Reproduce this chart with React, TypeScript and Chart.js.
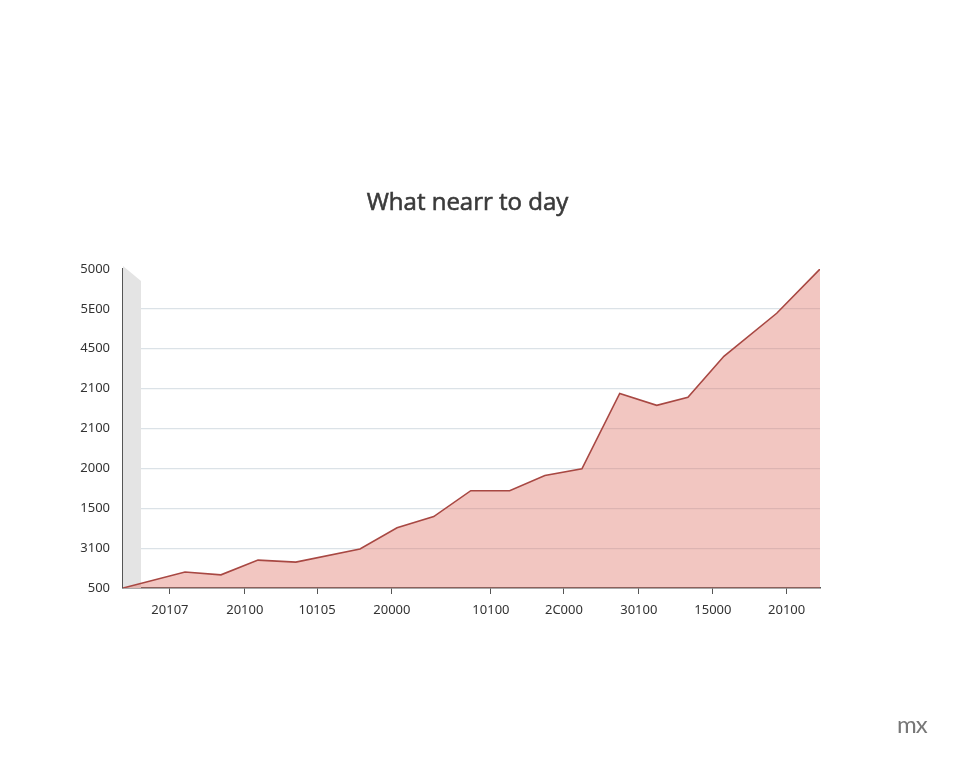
import React, { useEffect, useRef } from "react";
import { Chart, registerables } from "chart.js";

Chart.register(...registerables);

const chartTitle = "What nearr to day";
const watermark = "mx";

// x positions (in step units along the axis) and values (in grid-row units)
const pointX = [0, 1.69, 2.67, 3.68, 4.71, 6.46, 7.47, 8.47, 9.48, 10.54, 11.5, 12.51, 13.54, 14.55, 15.4, 16.38, 17.82, 19];
const seriesValues = [0, 0.4, 0.33, 0.7, 0.65, 0.98, 1.51, 1.79, 2.44, 2.44, 2.82, 2.99, 4.88, 4.58, 4.78, 5.81, 6.89, 8.0];

const xTickPositions = [1.28, 3.32, 5.29, 7.33, 10.03, 12.02, 14.06, 16.08, 18.09];
const xTickLabels = ["20107", "20100", "10105", "20000", "10100", "2C000", "30100", "15000", "20100"];

const yTickLabels = ["500", "3100", "1500", "2000", "2100", "2100", "4500", "5E00", "5000"];

export default function App() {
  const ref = useRef<HTMLCanvasElement | null>(null);

  useEffect(() => {
    const canvas = ref.current;
    if (!canvas) return;

    const sideWall = {
      id: "sideWall",
      beforeDatasetsDraw(chart: any) {
        const { ctx, chartArea } = chart;
        const { left, top, bottom } = chartArea;
        ctx.save();
        ctx.fillStyle = "#e4e4e4";
        ctx.beginPath();
        ctx.moveTo(left, top - 3);
        ctx.lineTo(left + 18, top + 12);
        ctx.lineTo(left + 18, bottom);
        ctx.lineTo(left, bottom);
        ctx.closePath();
        ctx.fill();
        ctx.restore();
      },
    };

    const titlePlugin = {
      id: "customTitle",
      afterDraw(chart: any) {
        const { ctx, chartArea } = chart;
        ctx.save();
        ctx.fillStyle = "#3a3a3a";
        ctx.strokeStyle = "#3a3a3a";
        ctx.lineWidth = 0.6;
        ctx.font = "400 24px 'Open Sans', 'Noto Sans', sans-serif";
        ctx.textAlign = "center";
        ctx.textBaseline = "middle";
        const x = (chartArea.left + chartArea.right) / 2 - 4;
        const y = chartArea.top - 66;
        ctx.fillText(chartTitle, x, y);
        ctx.strokeText(chartTitle, x, y);
        ctx.restore();
      },
    };

    const chart = new Chart(canvas, {
      type: "line",
      data: {
        datasets: [
          {
            data: pointX.map((x, i) => ({ x, y: seriesValues[i] })),
            borderColor: "#a84843",
            borderWidth: 1.6,
            backgroundColor: "rgba(222,112,100,0.4)",
            fill: "origin",
            pointRadius: 0,
            tension: 0,
          },
        ],
      },
      options: {
        responsive: false,
        animation: false,
        layout: { padding: { top: 269, right: 140, left: 0, bottom: 0 } },
        plugins: {
          legend: { display: false },
          title: { display: false },
          tooltip: { enabled: false },
        },
        scales: {
          x: {
            type: "linear",
            min: 0,
            max: 19,
            afterBuildTicks(scale: any) {
              scale.ticks = xTickPositions.map((v) => ({ value: v }));
            },
            afterFit(scale: any) {
              scale.height = 180;
            },
            ticks: {
              autoSkip: false,
              maxRotation: 0,
              padding: 8,
              color: "#333",
              font: { family: "'Noto Sans', sans-serif", size: 13 },
              callback: (_v: any, i: number) => xTickLabels[i],
            },
            grid: {
              drawOnChartArea: false,
              drawTicks: true,
              tickLength: 6,
              color: "#555",
            },
            border: { display: true, color: "#555", width: 1.5 },
          },
          y: {
            type: "linear",
            min: 0,
            max: 8,
            afterBuildTicks(scale: any) {
              scale.ticks = yTickLabels.map((_, i) => ({ value: i }));
            },
            afterFit(scale: any) {
              scale.width = 123;
            },
            ticks: {
              padding: 13,
              color: "#333",
              font: { family: "'Noto Sans', sans-serif", size: 13 },
              callback: (_v: any, i: number) => yTickLabels[i],
            },
            grid: {
              drawTicks: false,
              color: (c: any) => (c.index === 0 || c.index === 8 ? "rgba(0,0,0,0)" : "#dbe2e7"),
              lineWidth: 1.2,
            },
            border: { display: true, color: "#555", width: 1.5 },
          },
        },
      },
      plugins: [sideWall, titlePlugin],
    });

    return () => chart.destroy();
  }, []);

  return (
    <div style={{ position: "fixed", left: 0, top: 0, width: 960, height: 768, background: "#fff" }}>
      <canvas ref={ref} width={960} height={768} style={{ display: "block" }} />
      <div
        style={{
          position: "absolute",
          left: 897,
          top: 709,
          fontFamily: "Lato, 'Noto Sans', sans-serif",
          fontSize: 24,
          color: "#777",
          fontWeight: 400,
          letterSpacing: -1,
        }}
      >
        {watermark}
      </div>
    </div>
  );
}
